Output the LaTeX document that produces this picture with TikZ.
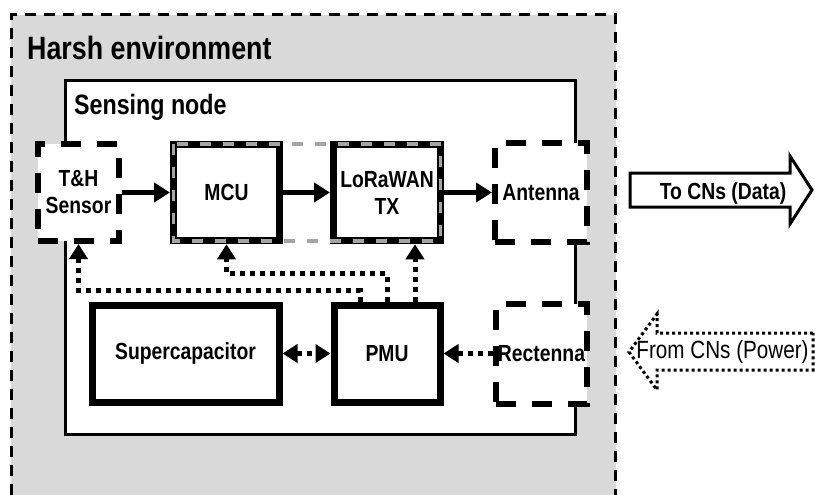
\documentclass[tikz,border=0pt]{standalone}
\usepackage{fontspec}
\setmainfont{Liberation Sans}[FakeStretch=0.83]
\usetikzlibrary{arrows.meta,positioning}
\definecolor{envgray}{RGB}{217,217,217}
\definecolor{grpgray}{RGB}{165,165,165}

\tikzset{
	lbl/.style={font=\fontsize{23.3}{27}\selectfont\bfseries, align=center, inner sep=0pt},
	solidbox/.style={draw, line width=7pt, fill=white, lbl},
	dashbox/.style={draw, line width=6pt, dash pattern=on 20pt off 16pt, fill=white, lbl},
	datalink/.style={line width=5pt, -{Triangle[length=16pt,width=19pt]}},
	powerlink/.style={line width=5pt, dash pattern=on 5pt off 5pt, -{Triangle[length=15pt,width=18pt]}},
}

\begin{document}
\begin{tikzpicture}[x=1pt, y=-1pt]
			\useasboundingbox (0,0) rectangle (815,495);
			% harsh environment
			\fill[envgray] (11,15) rectangle (615.5,495);
			\draw[line width=3pt, dash pattern=on 11pt off 8pt] (11,495) -- (11,15) -- (615.5,15) -- (615.5,495);
			\node[anchor=base west, font=\fontsize{32.3}{38}\selectfont\bfseries, inner sep=0pt] (harsh) at (27,60) {Harsh environment};
			% sensing node
			\draw[line width=3pt, fill=white] (65.5,80.5) rectangle (575,434);
			\node[anchor=base west, font=\fontsize{28}{33}\selectfont\bfseries, inner sep=0pt] (sn) at (74,114) {Sensing node};

			\node[dashbox, minimum width=81pt, minimum height=97pt] (sensor) at (78.5,192.5) {T\&H\\Sensor};
			\node[solidbox, minimum width=106pt, minimum height=96.5pt] (mcu) at (226.5,192.5) {MCU};
			\node[solidbox, minimum width=107pt, minimum height=96.5pt] (lora) at (387,192.5) {LoRaWAN\\TX};
			\node[dashbox, minimum width=92pt, minimum height=99pt] (ant) at (541,192.5) {Antenna};
			\node[solidbox, minimum width=187pt, minimum height=97pt] (scap) at (185.5,353.5) {Supercapacitor};
			\node[solidbox, minimum width=106pt, minimum height=97pt] (pmu) at (387,353.5) {PMU};
			\node[dashbox, minimum width=91pt, minimum height=100pt] (rect) at (541.5,353.5) {Rectenna};

			\draw[grpgray, line width=3.5pt, dash pattern=on 11pt off 12pt] ([xshift=3.5pt,yshift=-3.5pt]mcu.north west) rectangle ([xshift=-3.5pt,yshift=3.5pt]lora.south east);

			\draw[datalink] (sensor.east) -- (mcu.west);
			\draw[datalink] (mcu.east) -- (lora.west);
			\draw[datalink] (lora.east) -- (ant.west);

			\draw[powerlink] (rect.west) -- (pmu.east);
			\draw[powerlink, {Triangle[length=15pt,width=18pt]}-{Triangle[length=15pt,width=18pt]}] (scap.east) -- (pmu.west);
			\draw[powerlink] ([xshift=-27pt]pmu.north) -- ++(0,-11) -| (sensor.south);
			\draw[powerlink] (pmu.north) -- ++(0,-28) -| (mcu.south);
			\draw[powerlink] ([xshift=28pt]pmu.north) -- ([xshift=28pt]lora.south);

			% links to the CNs
			\draw[line width=3pt, fill=white] (630,173) -- (790,173) -- (790,156) -- (812,190) -- (790,224) -- (790,207) -- (630,207) -- cycle;
			\node[lbl, anchor=base] (tocn) at (723,199) {To CNs (Data)};
			\draw[line width=3pt, dash pattern=on 3pt off 3pt] (813,333) -- (657,333) -- (657,314) -- (629,352) -- (657,390) -- (657,370) -- (813,370) -- cycle;
			\node[anchor=base, font=\fontsize{24.9}{29}\selectfont, inner sep=0pt] (fromcn) at (722.5,358) {From CNs (Power)};
\end{tikzpicture}
\end{document}
